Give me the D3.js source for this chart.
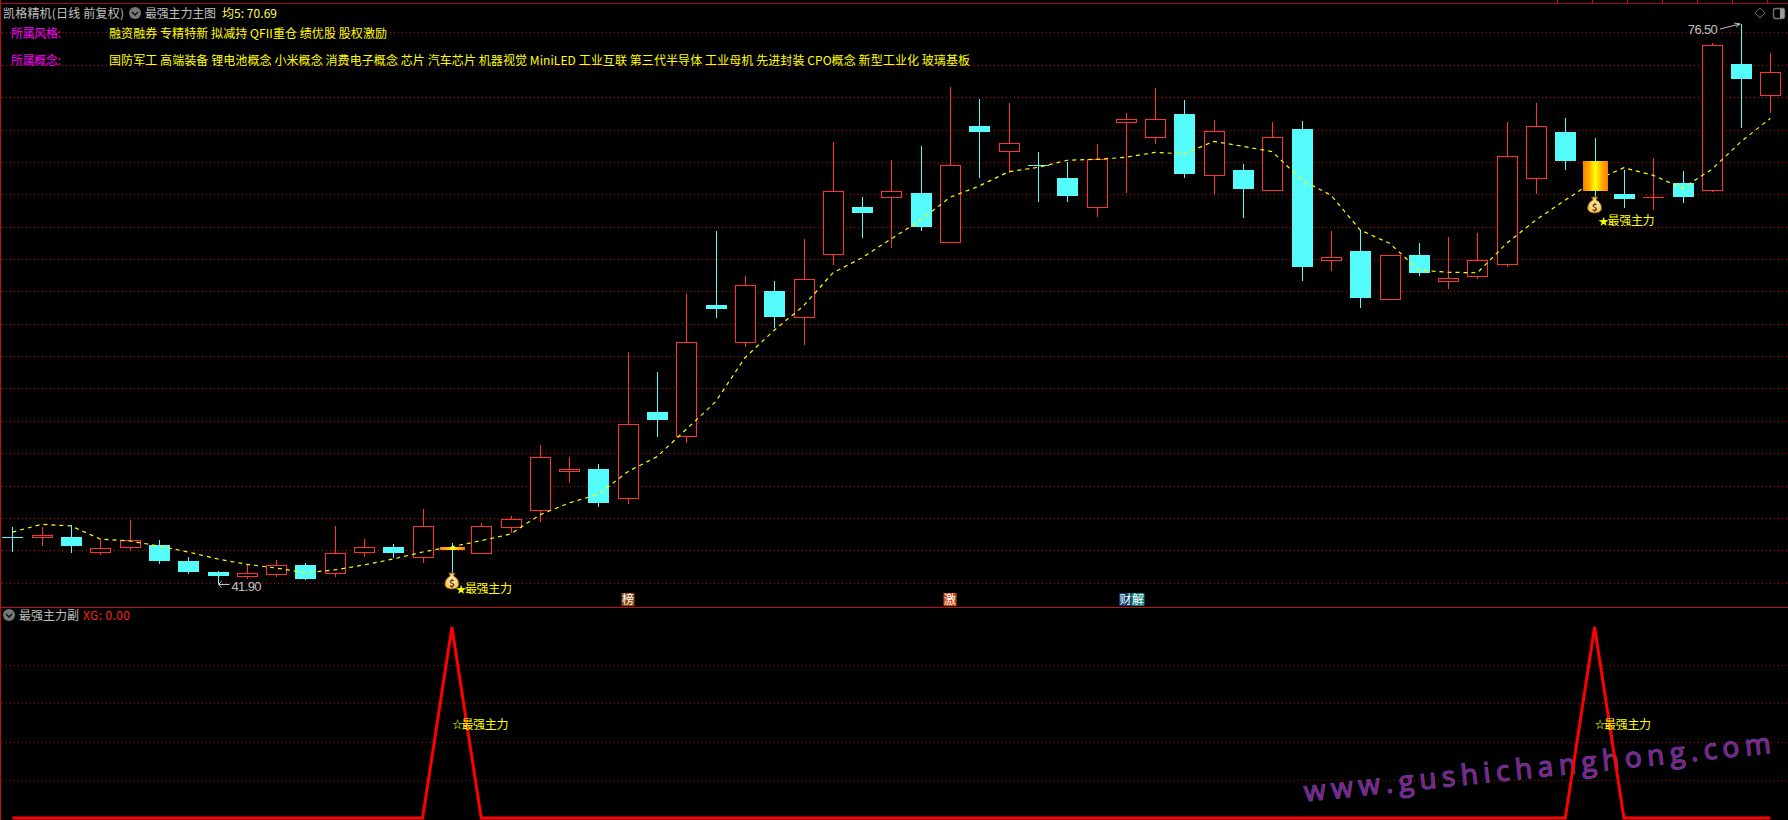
<!DOCTYPE html>
<html><head><meta charset="utf-8">
<script src="https://cdn.jsdelivr.net/npm/d3@7/dist/d3.min.js"></script>
<style>html,body{margin:0;padding:0;background:#000;overflow:hidden}svg{display:block}
text{font-family:"Noto Sans CJK SC","Liberation Sans",sans-serif;font-size:12px}</style>
</head><body><svg id="c" width="1788" height="820"></svg>
<script>
const opens=[44.81,44.84,44.83,43.92,44.23,44.33,43.34,42.66,42.44,42.56,43.10,42.62,43.92,44.21,43.61,44.21,43.82,45.46,46.48,48.92,49.03,47.25,52.55,51.05,59.16,56.85,60.02,58.44,62.29,65.21,65.81,66.08,63.03,70.22,68.69,67.80,67.00,65.23,70.48,69.56,70.96,67.21,67.50,66.28,70.03,61.96,62.49,59.55,62.25,60.66,60.97,61.71,67.02,69.85,68.05,66.02,65.81,66.69,66.28,74.05,72.15];
const closes=[44.80,44.95,44.29,44.13,44.62,43.34,42.66,42.42,42.58,43.08,42.23,43.82,44.21,43.84,45.49,44.02,45.49,45.92,49.75,49.03,46.95,51.79,52.07,56.85,58.91,60.39,58.44,60.75,66.18,64.84,66.18,64.00,67.79,69.85,69.15,67.79,65.89,68.16,70.63,70.63,67.25,69.91,66.32,69.52,61.51,62.10,59.59,62.23,61.14,60.81,61.92,68.34,70.20,68.05,66.20,65.71,65.82,65.83,75.20,73.12,73.53];
const highs=[45.44,45.44,45.57,44.64,45.88,44.64,43.59,42.73,43.10,43.41,43.22,45.51,44.70,44.39,46.56,44.46,45.69,46.12,50.51,49.77,49.34,56.25,55.02,59.84,63.70,60.95,60.67,63.24,69.23,65.83,68.12,68.98,72.63,71.88,71.64,68.61,67.99,69.10,71.02,72.56,71.82,70.59,67.87,70.46,70.53,63.73,63.79,62.23,62.99,63.36,63.61,70.46,71.64,70.71,69.47,67.50,68.24,67.44,75.33,76.50,74.73];
const lows=[43.92,44.29,43.86,43.73,44.02,43.18,42.56,41.90,42.25,42.36,42.17,42.37,43.61,43.53,43.24,42.60,43.82,45.05,45.77,48.18,46.70,46.88,51.02,50.65,58.37,56.58,57.76,56.71,61.65,63.32,62.70,63.75,63.03,67.02,67.29,65.54,65.54,64.61,66.10,69.12,67.02,66.02,64.55,66.28,60.64,61.26,58.97,59.55,60.95,60.15,60.76,61.51,66.02,67.50,65.83,65.15,65.03,65.46,66.14,70.09,71.02];
const ma5=[45.13,45.61,45.51,44.70,44.58,44.27,43.90,43.47,43.14,42.91,42.62,42.79,43.10,43.47,43.90,44.23,44.60,45.01,46.19,46.93,47.46,48.86,49.79,51.48,53.18,55.90,57.60,59.10,61.14,62.08,63.25,64.41,65.81,66.51,67.39,67.66,68.10,68.16,68.28,68.59,68.49,69.27,68.96,68.63,66.88,65.95,63.79,62.97,61.32,61.18,61.15,62.97,64.41,65.64,66.84,67.64,67.17,66.37,67.54,69.25,70.69];
const xgValues=[0,0,0,0,0,0,0,0,0,0,0,0,0,0,0,1,0,0,0,0,0,0,0,0,0,0,0,0,0,0,0,0,0,0,0,0,0,0,0,0,0,0,0,0,0,0,0,0,0,0,0,0,0,0,1,0,0,0,0,0,0];
const signalDays=[15,54];
const priceTicks=[76,74,72,70,68,66,64,62,60,58,56,54,52,50,48,46,44,42];
const subTicks=[0.8,0.6,0.4,0.2];
const styleTags="融资融券 专精特新 拟减持 QFII重仓 绩优股 股权激励";
const conceptTags="国防军工 高端装备 锂电池概念 小米概念 消费电子概念 芯片 汽车芯片 机器视觉 MiniLED 工业互联 第三代半导体 工业母机 先进封装 CPO概念 新型工业化 玻璃基板";
const eventBadges=[{day:21,chars:["榜"]},{day:32,chars:["激"]},{day:38,chars:["财","解"]}];

const RED="#ff3232",CYAN="#54fcfc",YEL="#ffff00",GRAY="#c0c0c0";
const svg=d3.select("#c");
const x=d3.scaleLinear().domain([0,60]).range([12.4,1770.4]);
const y=d3.scaleLinear().domain([42,76]).range([582.75,32.375]);
const ys=d3.scaleLinear().domain([0,1]).range([818,627]);
const px=v=>Math.round(v)+0.5;

const defs=svg.append("defs");
const g=defs.append("linearGradient").attr("id","gold");
[[0,"#ff7a00"],[.25,"#ffb000"],[.5,"#ffff00"],[.75,"#ffb000"],[1,"#ff7a00"]].forEach(s=>g.append("stop").attr("offset",s[0]).attr("stop-color",s[1]));
const bg=defs.append("radialGradient").attr("id","bag");
bg.append("stop").attr("offset",0).attr("stop-color","#fff6c8");
bg.append("stop").attr("offset",1).attr("stop-color","#f6c850");

svg.append("rect").attr("width",1788).attr("height",820).attr("fill","#000");

// grid
const dots=(sel,c)=>sel.attr("stroke",c).attr("stroke-dasharray","1 3").attr("shape-rendering","crispEdges");
svg.append("g").selectAll("line").data(priceTicks).join("line")
  .attr("x1",2).attr("x2",1788).attr("y1",d=>px(y(d))).attr("y2",d=>px(y(d))).call(dots,"#d00000");
svg.append("g").selectAll("line").data(subTicks).join("line")
  .attr("x1",2).attr("x2",1788).attr("y1",d=>px(ys(d))).attr("y2",d=>px(ys(d))).call(dots,"#b80000");

// frame
const frame=svg.append("g").attr("stroke","#c01010").attr("shape-rendering","crispEdges");
frame.append("line").attr("x1",0.5).attr("x2",0.5).attr("y1",0).attr("y2",820);
frame.append("line").attr("x1",0).attr("x2",1788).attr("y1",3.5).attr("y2",3.5).attr("stroke","#a01010");
frame.append("line").attr("x1",0).attr("x2",1788).attr("y1",607.5).attr("y2",607.5);
d3.range(1557,1788,35).forEach(t=>frame.append("line").attr("x1",t+.5).attr("x2",t+.5).attr("y1",0).attr("y2",3));

// candles
const days=d3.range(opens.length);
const isUp=i=>closes[i]>opens[i];
const plain=days.filter(i=>!signalDays.includes(i));
const cg=svg.append("g").attr("shape-rendering","crispEdges");
function wick(i){const c=isUp(i)?RED:CYAN,cx=px(x(i));
  cg.append("line").attr("x1",cx).attr("x2",cx).attr("y1",Math.round(y(highs[i]))).attr("y2",Math.round(y(lows[i]))).attr("stroke",c);}
plain.forEach(i=>{
  wick(i);
  const t=Math.round(y(Math.max(opens[i],closes[i]))),b=Math.round(y(Math.min(opens[i],closes[i])));
  const cx=Math.round(x(i)),c=isUp(i)?RED:CYAN;
  if(b-t<1){cg.append("line").attr("x1",cx-10).attr("x2",cx+11).attr("y1",t+.5).attr("y2",t+.5).attr("stroke",c);}
  else if(isUp(i)){cg.append("rect").attr("x",cx-10+.5).attr("y",t+.5).attr("width",20).attr("height",b-t).attr("fill","#000").attr("stroke",c);}
  else{cg.append("rect").attr("x",cx-10).attr("y",t).attr("width",21).attr("height",b-t).attr("fill",c);}
});

// MA5 line
svg.append("path").datum(ma5).attr("fill","none").attr("stroke",YEL).attr("stroke-width",1.2).attr("stroke-dasharray","4 4")
  .attr("d",d3.line().x((d,i)=>x(i)).y(d=>y(d)));

// signal candles
const sg=svg.append("g");
const labelBase=[592.5,225];
signalDays.forEach((i,n)=>{
  const cx=px(x(i));
  sg.append("line").attr("x1",cx).attr("x2",cx).attr("y1",Math.round(y(highs[i]))).attr("y2",Math.round(y(lows[i]))).attr("stroke",CYAN).attr("shape-rendering","crispEdges");
  const t=Math.round(y(opens[i])),b=Math.round(y(closes[i]));
  sg.append("rect").attr("x",Math.round(x(i))-12).attr("y",t).attr("width",25).attr("height",b-t).attr("fill","url(#gold)");
  const by=Math.round(y(lows[i]))+8, m=sg.append("g").attr("transform",`translate(${x(i)},${by})`);
  m.append("path").attr("d","M-3,-8 L3,-8 L1.8,-5 C5,-3.5 7,-0.5 7,3 C7,6.5 4,8 0,8 C-4,8 -7,6.5 -7,3 C-7,-0.5 -5,-3.5 -1.8,-5 Z")
    .attr("fill","url(#bag)").attr("stroke","#7a4a14").attr("stroke-width",1);
  m.append("text").attr("y",5.5).attr("text-anchor","middle").attr("fill","#7a3010").style("font-size","10px").style("font-weight","700").text("$");
  const lx=x(i)+4;
  sg.append("text").attr("x",lx).attr("y",labelBase[n]).attr("fill",YEL).style("font-size","10px").text("★");
  sg.append("text").attr("x",lx+9).attr("y",labelBase[n]).attr("fill",YEL).attr("textLength",47).text("最强主力");
});

// extreme labels
const ext=svg.append("g").attr("fill",GRAY);
const hiI=d3.maxIndex(highs),loI=d3.minIndex(lows);
ext.append("text").attr("x",x(hiI)-53.3).attr("y",34).attr("textLength",30).style("font-family","Liberation Sans").style("font-size","13px").text(d3.format(".2f")(highs[hiI]));
ext.append("path").attr("fill","none").attr("stroke",GRAY).attr("d",`M${x(hiI)-21},29 L${x(hiI)-1},24 M${x(hiI)-7},23 L${x(hiI)-1},24 L${x(hiI)-5},27`);
ext.append("text").attr("x",x(loI)+14).attr("y",590.5).attr("textLength",30).style("font-family","Liberation Sans").style("font-size","13px").text(d3.format(".2f")(lows[loI]));
ext.append("path").attr("fill","none").attr("stroke",GRAY).attr("d",`M${x(loI)+12},584.5 L${x(loI)+1},584.5 M${x(loI)+4},581.5 L${x(loI)+1},584.5 L${x(loI)+4},587.5`);

// badges
const badgeFill=["#8a4a10","#c84a10","#0a3a6a","#108080"];
let bi=0;
eventBadges.forEach(b=>b.chars.forEach((ch,k)=>{
  const bx=Math.round(x(b.day))+(b.chars.length>1?-7+k*12.5:-6.5);
  const f=svg.append("g");
  f.append("rect").attr("x",bx).attr("y",593).attr("width",13).attr("height",13).attr("fill",badgeFill[bi++]);
  f.append("text").attr("x",bx+.5).attr("y",604).attr("fill","#fff").text(ch);
}));

// header text
function txt(s,xx,yy,fill,len){const t=svg.append("text").attr("x",xx).attr("y",yy).attr("fill",fill).text(s);if(len)t.attr("textLength",len);return t;}
function chevron(cx,cy){svg.append("circle").attr("cx",cx).attr("cy",cy).attr("r",6).attr("fill","#777");
  svg.append("path").attr("d",`M${cx-3},${cy-1} L${cx},${cy+2} L${cx+3},${cy-1}`).attr("fill","none").attr("stroke","#111").attr("stroke-width",1.5);}
txt("凯格精机(日线 前复权)",3,17.5,GRAY,121);
chevron(135,13);
txt("最强主力主图",145,17.5,GRAY,71);
txt("均5: "+ma5[ma5.length-1].toFixed(2),222,17.5,"#ffff54",55);
txt("所属风格:",11,37.5,"#ff00ff",50);
txt(styleTags,109,37.5,YEL,278);
txt("所属概念:",11,65,"#ff00ff",50);
txt(conceptTags,109,65,YEL,861);

// sub-chart
chevron(9,615);
txt("最强主力副",19,620,GRAY,60);
txt("XG: "+xgValues[xgValues.length-1].toFixed(2),83,620,"#ff2020",47);

// watermark
svg.append("text").attr("transform",`translate(1305,801.5) rotate(-5.96)`)
  .attr("textLength",469).attr("fill","#8a1f80").attr("stroke","#4a50b0").attr("stroke-width",1.2).attr("paint-order","stroke")
  .style("font-family","Open Sans").style("font-size","28px").style("font-weight","400").text("www.gushichanghong.com");

// XG line
svg.append("path").datum(xgValues).attr("fill","none").attr("stroke","#ff0000").attr("stroke-width",3)
  .attr("stroke-linejoin","miter").attr("d",d3.line().x((d,i)=>x(i)).y(d=>ys(d)));
signalDays.forEach(i=>{
  svg.append("text").attr("x",x(i)+.5).attr("y",728).attr("fill",YEL).style("font-size","10px").text("☆");
  svg.append("text").attr("x",x(i)+9.5).attr("y",728.5).attr("fill",YEL).attr("textLength",47).text("最强主力");
});

// top-right icons
svg.append("path").attr("d","M1760,8 L1765,13 L1760,18 L1755,13 Z").attr("fill","none").attr("stroke","#666");
svg.append("rect").attr("x",1773.5).attr("y",8.5).attr("width",11).attr("height",10).attr("rx",2).attr("fill","none").attr("stroke","#777").attr("stroke-width",1.3);
svg.append("rect").attr("x",1780).attr("y",9).attr("width",4).attr("height",9).attr("fill","#999");
</script></body></html>
